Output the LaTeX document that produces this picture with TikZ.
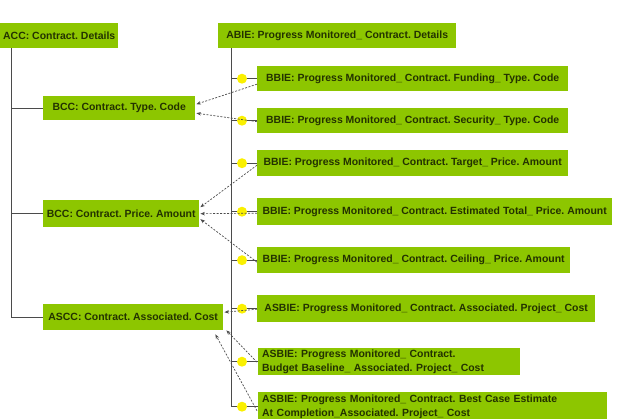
\documentclass[tikz,border=0pt]{standalone}
\usepackage{fontspec}
\setmainfont{Liberation Sans}
\usetikzlibrary{calc,arrows.meta}
\definecolor{boxgreen}{RGB}{141,198,0}
\definecolor{boxtext}{RGB}{35,50,0}
\definecolor{dotyellow}{RGB}{250,240,0}
\definecolor{linegray}{RGB}{75,75,75}

\begin{document}
\frenchspacing
\begin{tikzpicture}[x=1pt,y=-1pt,
  box/.style={fill=boxgreen, text=boxtext, anchor=north west,
    font=\bfseries\fontsize{10.45}{13.5}\selectfont,
    inner xsep=3pt, inner ysep=0pt, align=left},
  tree/.style={draw=linegray, line width=0.8pt},
  dot/.style={circle, fill=dotyellow, minimum size=10pt, inner sep=0pt},
  dep/.style={draw=linegray, line width=0.7pt, dash pattern=on 2pt off 1.5pt,
    -{Stealth[length=4.5pt,width=3.5pt]}}]
\useasboundingbox (0,0) rectangle (618,419);
\begin{scope}
\clip (0,0) rectangle (618,419);

% core components (left column)
\node[box, minimum width=117pt, minimum height=25pt] (acc) at (0,23) {ACC: Contract. Details};
\node[box, minimum width=152pt, minimum height=24pt] (bcct) at (43,96) {BCC: Contract. Type. Code};
\node[box, minimum width=156pt, minimum height=27pt] (bcca) at (43,200) {BCC: Contract. Price. Amount};
\node[box, minimum width=180pt, minimum height=26pt] (ascc) at (43,304) {ASCC: Contract. Associated. Cost};

% business information entities (right column)
\node[box, minimum width=238pt, minimum height=25pt] (abie) at (218,23) {ABIE: Progress Monitored\_ Contract. Details};
\node[box, minimum width=311pt, minimum height=25pt] (bbf) at (257,66) {BBIE: Progress Monitored\_ Contract. Funding\_ Type. Code};
\node[box, minimum width=311pt, minimum height=25pt] (bbs) at (257,108) {BBIE: Progress Monitored\_ Contract. Security\_ Type. Code};
\node[box, minimum width=311pt, minimum height=26pt] (bbt) at (257,150) {BBIE: Progress Monitored\_ Contract. Target\_ Price. Amount};
\node[box, minimum width=355pt, minimum height=27pt] (bbe) at (257,198) {BBIE: Progress Monitored\_ Contract. Estimated Total\_ Price. Amount};
\node[box, minimum width=313pt, minimum height=26pt] (bbc) at (257,247) {BBIE: Progress Monitored\_ Contract. Ceiling\_ Price. Amount};
\node[box, minimum width=338pt, minimum height=27pt] (asa) at (257,295) {ASBIE: Progress Monitored\_ Contract. Associated. Project\_ Cost};
\node[box, text width=254pt, inner xsep=4pt, minimum height=27pt] (asb) at (258,348) {ASBIE: Progress Monitored\_ Contract.\\Budget Baseline\_ Associated. Project\_ Cost};
\node[box, text width=341pt, inner xsep=4pt, minimum height=29pt] (asc) at (258,392) {ASBIE: Progress Monitored\_ Contract. Best Case Estimate\\At Completion\_Associated. Project\_ Cost};

% left tree
\coordinate (lt) at ($(acc.south west)+(11,0)$);
\draw[tree] (lt) |- (ascc.west);
\foreach \n in {bcct,bcca} \draw[tree] (\n.west -| lt) -- (\n.west);

% right tree with yellow joints
\coordinate (rt) at ($(abie.south west)+(13,0)$);
\draw[tree] (rt) |- (asc.west);
\foreach \n in {bbf,bbs,bbt,bbe,bbc,asa,asb,asc}{
  \draw[tree] (\n.west -| rt) -- (\n.west);
  \node[dot] (dot-\n) at ($(\n.west -| rt)+(11,0)$) {};
}

% based-on dependencies
\draw[dep] ($(bbf.west)+(0,5.5)$) -- ($(bcct.east)+(1,-4)$);
\draw[dep] ($(bbs.west)+(0,1)$) -- ($(bcct.east)+(1,5)$);
\draw[dep] ($(bbt.west)+(0,2)$) -- ($(bcca.east)+(1,-6.5)$);
\draw[dep] ($(bbe.west)+(0,1.5)$) -- ($(bcca.east)+(1,0)$);
\draw[dep] ($(bbc.west)+(0,2)$) -- ($(bcca.east)+(1,5.5)$);
\draw[dep] ($(asa.west)+(0,0.5)$) -- ($(ascc.east)+(1,-5)$);
\draw[dep] ($(asb.west)+(-1,0.5)$) -- ($(ascc.south east)+(3,0)$);
\draw[dep] ($(asc.west)+(-1,4)$) -- ($(ascc.south east)+(-8,4)$);
\end{scope}
\end{tikzpicture}
\end{document}
